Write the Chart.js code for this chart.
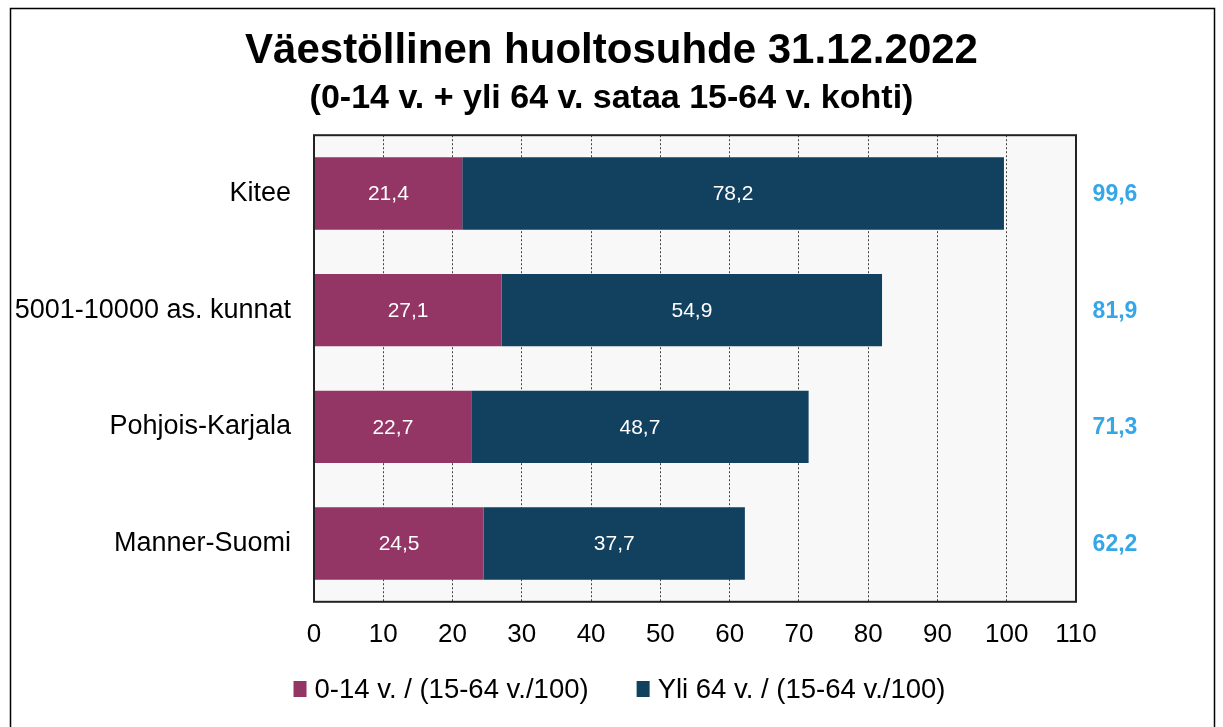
<!DOCTYPE html>
<html>
<head>
<meta charset="utf-8">
<script src="https://cdn.jsdelivr.net/npm/chart.js@4/dist/chart.umd.min.js"></script>
<style>
  html, body { margin: 0; padding: 0; background: #fff; }
  #wrap { width: 1223px; height: 727px; }
</style>
</head>
<body>
<div id="wrap"><canvas id="chart" width="1223" height="727"></canvas></div>
<script>
const categories = ["Kitee", "5001-10000 as. kunnat", "Pohjois-Karjala", "Manner-Suomi"]
const children = [21.4, 27.1, 22.7, 24.5]
const elderly = [78.2, 54.9, 48.7, 37.7]
const totals = [99.6, 81.9, 71.3, 62.2]
const seriesNames = ["0-14 v. / (15-64 v./100)", "Yli 64 v. / (15-64 v./100)"]
const xTicks = [0, 10, 20, 30, 40, 50, 60, 70, 80, 90, 100, 110]

const FONT = "'Liberation Sans', Arial, sans-serif"
const fmt = v => v.toFixed(1).replace('.', ',')

// plot background, outer frame, plot border
const framePlugin = {
  id: 'frame',
  beforeDraw(chart) {
    const { ctx, chartArea: a } = chart
    ctx.save()
    ctx.fillStyle = '#fff'
    ctx.fillRect(0, 0, chart.width, chart.height)
    ctx.fillStyle = '#f8f8f8'
    ctx.fillRect(a.left, a.top, a.right - a.left, a.bottom - a.top)
    ctx.strokeStyle = '#000'
    ctx.lineWidth = 1.5
    ctx.strokeRect(10.5, 8.5, 1204, 740)
    ctx.restore()
  },
  afterDraw(chart) {
    const { ctx, chartArea: a } = chart
    ctx.save()
    ctx.strokeStyle = '#222'
    ctx.lineWidth = 2
    ctx.strokeRect(a.left, a.top, a.right - a.left, a.bottom - a.top)
    ctx.restore()
  }
}

// values inside the bars and totals to the right
const labelPlugin = {
  id: 'labels',
  afterDatasetsDraw(chart) {
    const { ctx, chartArea: a } = chart
    ctx.save()
    ctx.textAlign = 'center'
    ctx.textBaseline = 'middle'
    ctx.font = `21px ${FONT}`
    ctx.fillStyle = '#fff'
    chart.data.datasets.forEach((ds, di) => {
      chart.getDatasetMeta(di).data.forEach((bar, i) => {
        ctx.fillText(fmt(ds.data[i]), (bar.x + bar.base) / 2, bar.y + 1)
      })
    })
    ctx.font = `bold 23px ${FONT}`
    ctx.fillStyle = '#35a7e8'
    const y = chart.scales.y
    totals.forEach((t, i) => {
      ctx.fillText(fmt(t), a.right + 39, y.getPixelForValue(i) + 1)
    })
    ctx.restore()
  }
}

// legend drawn by hand: narrow boxes, small gap to text, wide gap between items
const legendPlugin = {
  id: 'bottomLegend',
  afterDraw(chart) {
    const { ctx } = chart
    const boxW = 13, boxH = 16, gap = 8, itemGap = 48
    ctx.save()
    ctx.font = `27.5px ${FONT}`
    ctx.textBaseline = 'middle'
    ctx.textAlign = 'left'
    const items = chart.data.datasets.map(ds => ({
      text: ds.label, color: ds.backgroundColor, w: ctx.measureText(ds.label).width
    }))
    const total = items.reduce((s, it) => s + boxW + gap + it.w, 0) + itemGap * (items.length - 1)
    let x = chart.width / 2 + 8 - total / 2
    const y = 690
    items.forEach(it => {
      ctx.fillStyle = it.color
      ctx.fillRect(x, y - boxH / 2 - 1, boxW, boxH)
      ctx.fillStyle = '#000'
      ctx.fillText(it.text, x + boxW + gap, y)
      x += boxW + gap + it.w + itemGap
    })
    ctx.restore()
  }
}

new Chart(document.getElementById('chart'), {
  type: 'bar',
  data: {
    labels: categories,
    datasets: [
      {
        label: seriesNames[0],
        data: children,
        backgroundColor: '#933565',
        barPercentage: 0.62,
        categoryPercentage: 1.0
      },
      {
        label: seriesNames[1],
        data: elderly,
        backgroundColor: '#12405f',
        barPercentage: 0.62,
        categoryPercentage: 1.0
      }
    ]
  },
  options: {
    indexAxis: 'y',
    responsive: false,
    animation: false,
    layout: { padding: { left: 0, right: 0, top: 0, bottom: 60 } },
    plugins: {
      title: {
        display: true,
        text: 'Väestöllinen huoltosuhde 31.12.2022',
        color: '#000',
        font: { family: FONT, size: 42, weight: 'bold', lineHeight: 1.2 },
        padding: { top: 26, bottom: 0 }
      },
      subtitle: {
        display: true,
        text: '(0-14 v. + yli 64 v. sataa 15-64 v. kohti)',
        color: '#000',
        font: { family: FONT, size: 34, weight: 'bold', lineHeight: 1.2 },
        padding: { top: 2, bottom: 16 }
      },
      legend: { display: false },
      tooltip: { enabled: false }
    },
    scales: {
      x: {
        stacked: true,
        min: 0,
        max: 110,
        afterBuildTicks: scale => { scale.ticks = xTicks.map(v => ({ value: v })) },
        ticks: {
          color: '#000',
          font: { family: FONT, size: 26 },
          padding: 17
        },
        grid: {
          color: '#444',
          lineWidth: 1,
          drawTicks: false
        },
        border: { display: false, dash: [2, 2] }
      },
      y: {
        stacked: true,
        afterFit: scale => { scale.width = 314 },
        ticks: {
          color: '#000',
          font: { family: FONT, size: 27 },
          padding: 23
        },
        grid: { display: false, drawTicks: false },
        border: { display: false }
      },
      // empty right-hand axis that keeps room for the totals
      yRight: {
        type: 'category',
        position: 'right',
        afterFit: scale => { scale.width = 147 },
        ticks: { display: false },
        grid: { display: false, drawTicks: false },
        border: { display: false }
      }
    }
  },
  plugins: [framePlugin, labelPlugin, legendPlugin]
})
</script>
</body>
</html>
